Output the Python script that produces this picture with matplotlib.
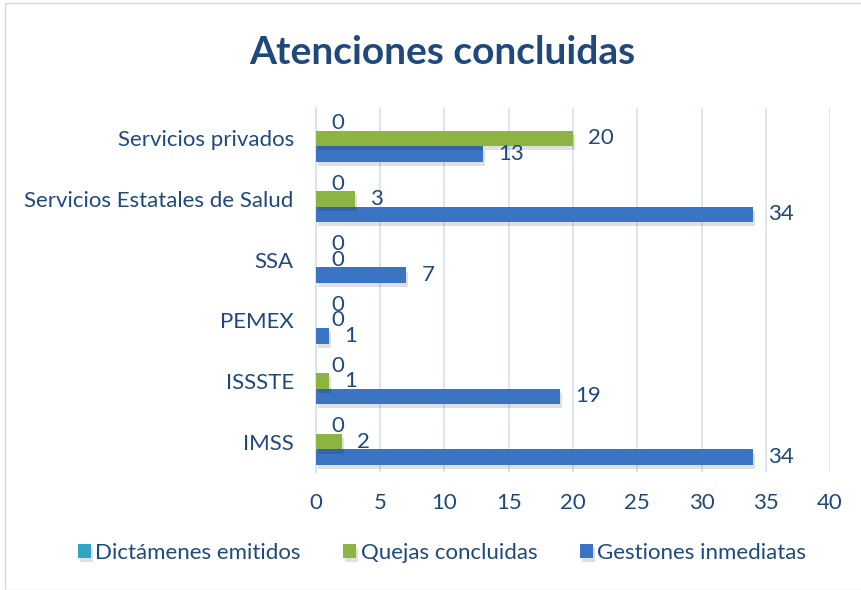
import matplotlib
matplotlib.use("Agg")
import matplotlib.pyplot as plt
import matplotlib.patheffects as pe
import numpy as np

plt.rcParams["font.family"] = ["Lato", "DejaVu Sans"]

categories = ["IMSS", "ISSSTE", "PEMEX", "SSA",
              "Servicios Estatales de Salud", "Servicios privados"]
gestiones = [34, 19, 1, 7, 34, 13]
quejas = [2, 1, 0, 0, 3, 20]
dictamenes = [0, 0, 0, 0, 0, 0]
x_ticks = [0, 5, 10, 15, 20, 25, 30, 35, 40]

text_color = "#1F497D"
grid_color = "#D6E0EF"

fig = plt.figure(figsize=(8.62, 5.9), dpi=100)
ax = fig.add_axes([316 / 862, 1 - 472 / 590, 514 / 862, 364 / 590])

y = np.arange(len(categories))
h = 0.255
series = [
    (gestiones, "Gestiones inmediatas", "#3A74C2", -h),
    (quejas, "Quejas concluidas", "#8DB443", 0.0),
    (dictamenes, "Dictámenes emitidos", "#31A4C4", h),
]
shadow = [pe.SimplePatchShadow(offset=(1.5, -3), shadow_rgbFace="#000000", alpha=0.12), pe.Normal()]
handles = {}
for vals, name, color, off in series:
    bars = ax.barh(y + off, vals, height=h, color=color, label=name, zorder=3)
    for b in bars:
        b.set_path_effects(shadow)
    handles[name] = bars
    for yi, v in zip(y + off, vals):
        ax.text(v + 1.2, yi, str(v), va="center", ha="left",
                fontsize=16, color=text_color, zorder=4)

ax.set_xlim(0, 40)
ax.set_ylim(-0.5, len(categories) - 0.5)
ax.set_xticks(x_ticks)
ax.set_yticks(y, labels=categories)
ax.tick_params(axis="both", length=0, labelsize=16, labelcolor=text_color)
ax.tick_params(axis="x", pad=15)
ax.tick_params(axis="y", pad=16)
ax.grid(axis="x", color=grid_color, linewidth=1.2, zorder=0)
for s in ["top", "right", "bottom"]:
    ax.spines[s].set_visible(False)
ax.spines["left"].set_color(grid_color)
ax.spines["left"].set_linewidth(1.2)

fig.text(442 / 862, 1 - 52 / 590, "Atenciones concluidas", ha="center", va="center",
         fontsize=28, fontweight="bold", color=text_color)

order = ["Dictámenes emitidos", "Quejas concluidas", "Gestiones inmediatas"]
fig.legend([handles[n] for n in order], order, loc="center",
           bbox_to_anchor=(442 / 862, 1 - 553 / 590), ncol=3, frameon=False,
           fontsize=16, labelcolor=text_color, handlelength=0.6, handleheight=0.6,
           handletextpad=0.2, columnspacing=1.9)

fig.patches.append(plt.Rectangle((5 / 862, 0), 1, 1 - 3 / 590, transform=fig.transFigure,
                                 fill=False, edgecolor="#D9D9D9", linewidth=1))

fig.savefig("out.png", dpi=100)
